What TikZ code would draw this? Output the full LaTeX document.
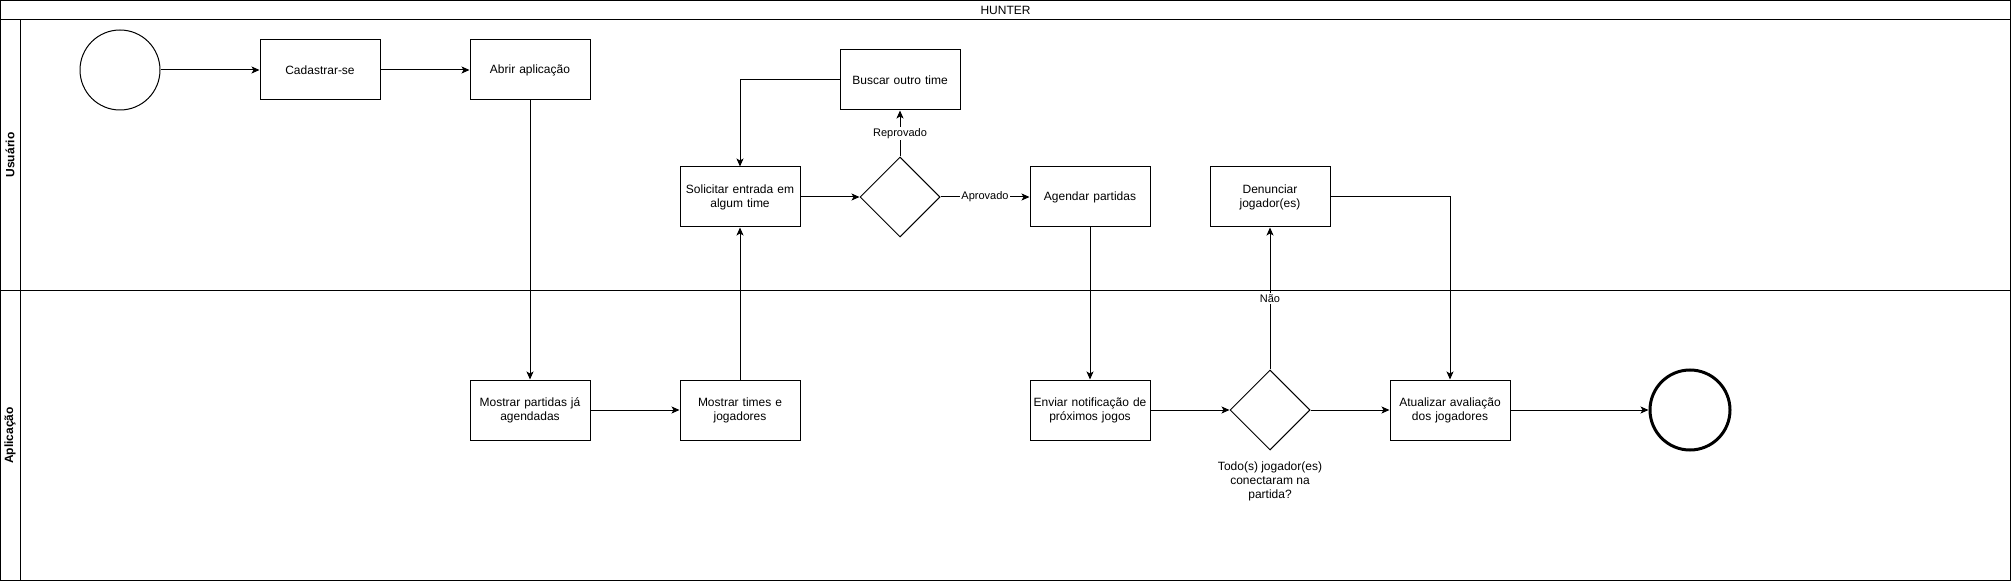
\documentclass[tikz,border=0pt]{standalone}
\usepackage{fontspec}
\setmainfont{Liberation Sans}
\usepackage{tikz}
\usetikzlibrary{positioning}
\usetikzlibrary{shapes.geometric, arrows, arrows.meta}
\tikzstyle{basicblock} = [rectangle, minimum width=90pt, minimum height=45pt, text centered, text width=88pt, inner sep=1pt, draw=black, line width=0.75pt]
\tikzstyle{decision} = [diamond, aspect=1, minimum width=60pt, minimum height=60pt, inner sep=0pt, draw=black, line width=0.75pt]
\tikzstyle{event} = [circle, minimum size=60pt, inner sep=0pt, draw=black, line width=0.75pt]
\tikzstyle{arrow} = [line width=0.75pt, -{Stealth[length=6pt, width=5.25pt, inset=1.5pt]}]
\tikzstyle{edgelabel} = [fill=white, inner sep=1pt, font=\fontsize{8.25}{10}\selectfont]
\tikzstyle{lane} = [line width=0.75pt]

\begin{document}
\begin{tikzpicture}[x=0.75pt, y=-0.75pt, font=\fontsize{9}{10.5}\selectfont]

	\useasboundingbox (0,0) rectangle (2011,581);

	% pool and lanes
	\draw [lane] (0.5,0.5) rectangle (2010.5,580.5);
	\draw [lane] (0,20) -- (2011,20);
	\draw [lane] (20,20) -- (20,581);
	\draw [lane] (0,290) -- (2011,290);

	\node (pool) at (1005.5,10) {HUNTER};
	\node (laneUser) [rotate=90, font=\fontsize{9}{10.5}\selectfont\bfseries] at (10,155) {Usuário};
	\node (laneApp) [rotate=90, font=\fontsize{9}{10.5}\selectfont\bfseries] at (10,435.5) {Aplicação};

	% steps
	\node (start) [event] at (120,70) {};

	\node (cadastro) [basicblock, right of=start, node distance=150pt] {Cadastrar-se};

	\node (abrir) [basicblock, right of=cadastro, node distance=157.5pt] {Abrir aplicação};

	\node (mostrarPartidas) [basicblock, below of=abrir, node distance=255pt] {Mostrar partidas já\\agendadas};

	\node (mostrarTimes) [basicblock, right of=mostrarPartidas, node distance=157.5pt] {Mostrar times e\\jogadores};

	\node (solicitar) [basicblock, above of=mostrarTimes, node distance=159.75pt] {Solicitar entrada em\\algum time};

	\node (avaliacao) [decision, right of=solicitar, node distance=120pt] {};

	\node (buscar) [basicblock, above of=avaliacao, node distance=87.75pt] {Buscar outro time};

	\node (agendar) [basicblock, right of=avaliacao, node distance=142.5pt] {Agendar partidas};

	\node (notificar) [basicblock, below of=agendar, node distance=159.75pt] {Enviar notificação de\\próximos jogos};

	\node (conexao) [decision, right of=notificar, node distance=135pt] {};

	\node (pergunta) [below of=conexao, node distance=53.25pt, align=center] {Todo(s) jogador(es)\\conectaram na\\partida?};

	\node (denunciar) [basicblock, above of=conexao, node distance=159.75pt] {Denunciar\\jogador(es)};

	\node (atualizar) [basicblock, right of=conexao, node distance=135pt] {Atualizar avaliação\\dos jogadores};

	\node (fim) [event, line width=2.25pt, right of=atualizar, node distance=180pt] {};

	% flow
	\draw [arrow] (start) -- (cadastro);
	\draw [arrow] (cadastro) -- (abrir);
	\draw [arrow] (abrir) -- (mostrarPartidas);
	\draw [arrow] (mostrarPartidas) -- (mostrarTimes);
	\draw [arrow] (mostrarTimes) -- (solicitar);
	\draw [arrow] (solicitar) -- (avaliacao);

	\draw [arrow] (avaliacao) -- node[edgelabel] {Reprovado} (buscar);
	\draw [arrow] (buscar) -| (solicitar);
	\draw [arrow] (avaliacao) -- node[edgelabel] {Aprovado} (agendar);

	\draw [arrow] (agendar) -- (notificar);
	\draw [arrow] (notificar) -- (conexao);
	\draw [arrow] (conexao) -- node[edgelabel] {Não} (denunciar);
	\draw [arrow] (conexao) -- (atualizar);
	\draw [arrow] (denunciar) -| (atualizar);
	\draw [arrow] (atualizar) -- (fim);

\end{tikzpicture}
\end{document}
